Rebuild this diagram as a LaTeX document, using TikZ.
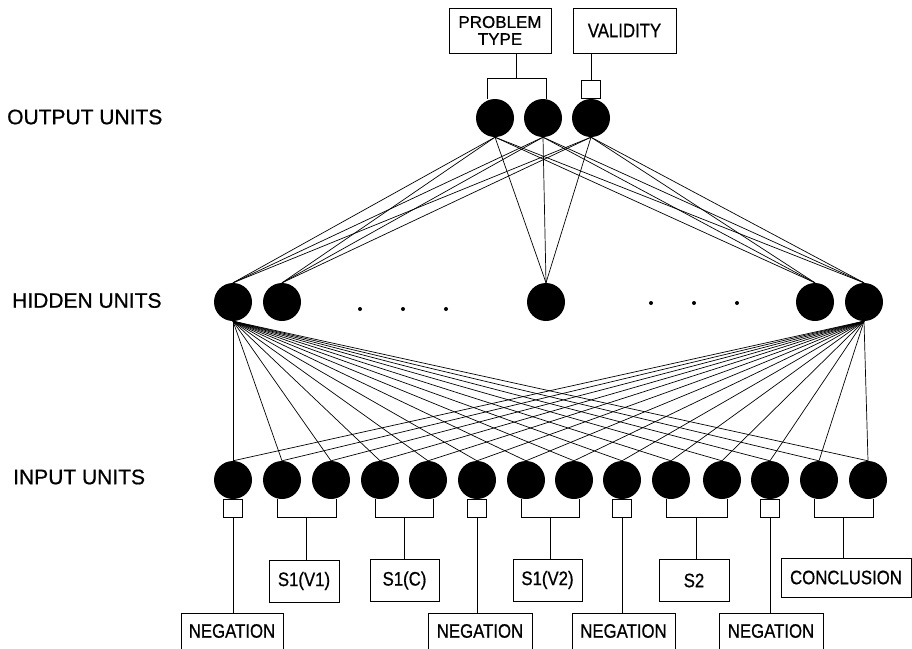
\documentclass[tikz,border=0pt]{standalone}
\usepackage{fontspec}
\setmainfont{Liberation Sans}[FakeBold=0.7]
\newfontfamily\boxfont[FakeStretch=0.86,FakeBold=0.7]{Liberation Sans}
\usetikzlibrary{calc}
\tikzset{
  unit/.style={circle,fill=black,minimum size=38pt,inner sep=0pt},
  field/.style={draw,line width=.8pt,inner sep=0pt,minimum height=42pt,
    font=\boxfont\fontsize{19.5}{20}\selectfont},
  tab/.style={draw,line width=.8pt,minimum width=19pt,minimum height=18pt,inner sep=0pt},
  layer/.style={anchor=west,inner sep=0pt,font=\fontsize{21}{25}\selectfont},
  link/.style={line width=.7pt}
}
\begin{document}
\begin{tikzpicture}[x=1pt,y=-1pt]
  \useasboundingbox (0,0) rectangle (912,648);
  \node[layer] (lout) at (7,117) {OUTPUT UNITS};
  \node[layer] (lhid) at (12,300.5) {HIDDEN UNITS};
  \node[layer] (lin) at (13,477) {INPUT UNITS};
  \foreach \x [count=\i] in {495,543,591}
    \node[unit] (out\i) at (\x,118) {};
  \foreach \x [count=\i] in {233,282,546,815,864}
    \node[unit] (hid\i) at (\x,302) {};
  \foreach \x in {360,403,446} \fill (\x,309) circle (2pt);
  \foreach \x in {651,694,737} \fill (\x,303) circle (2pt);
  \foreach \x [count=\i] in {233,282,331,380,428,477,526,574,622,671,722,770,819,868}
    \node[unit] (in\i) at (\x,480) {};
  \foreach \o in {1,2,3}
    \foreach \h in {1,...,5}
      \draw[link] (out\o.south) -- (hid\h.north);
  \foreach \h in {1,5}
    \foreach \i in {1,...,14}
      \draw[link] (hid\h.south) -- (in\i.north);
  \node[field,minimum width=102pt,minimum height=45pt,align=center,
    font=\fontsize{17}{17}\selectfont] (ptype) at (500,30.5) {PROBLEM\\TYPE};
  \node[field,minimum width=103pt,minimum height=45pt] (valid) at (624.5,30.5) {VALIDITY};
  \draw[link] ([xshift=-8pt]out1.north) -- ++(0,-20) -| ([xshift=3pt]out2.north);
  \coordinate (pj) at ($(out1.north)!.5!(out2.north)+(-3,-20)$);
  \draw[link] (pj) -- (pj |- ptype.south);
  \node[tab,anchor=south] (vt) at (out3.north) {};
  \draw[link] (vt.north) -- (vt.north |- valid.south);
  \node[field,minimum width=70pt] (s1v1) at (304,581) {S1(V1)};
  \node[field,minimum width=69pt] (s1c) at (404.5,580.5) {S1(C)};
  \node[field,minimum width=69pt] (s1v2) at (547.5,580) {S1(V2)};
  \node[field,minimum width=70pt] (s2) at (694,580.5) {S2};
  \node[field,minimum width=130pt,minimum height=39pt] (concl) at (846,577.5) {CONCLUSION};
  \foreach \n/\x/\w in {1/232/102,2/480/104,3/623.5/103,4/771/104}
    \node[field,minimum width=\w pt,minimum height=36pt] (neg\n) at (\x,631) {NEGATION};
  \foreach \a/\b/\f in {2/3/s1v1,4/5/s1c,7/8/s1v2,10/11/s2,13/14/concl} {
    \draw[link] ([xshift=-5pt]in\a.south) -- ++(0,18) -| ([xshift=5pt]in\b.south);
    \coordinate (j\f) at ($(in\a.south)!.5!(in\b.south)+(0,18)$);
    \draw[link] (j\f) -- (j\f |- \f.north);
  }
  \foreach \i/\n in {1/1,6/2,9/3,12/4} {
    \node[tab,anchor=north] (t\n) at (in\i.south) {};
    \draw[link] (t\n.south) -- (t\n.south |- neg\n.north);
  }
\end{tikzpicture}
\end{document}
